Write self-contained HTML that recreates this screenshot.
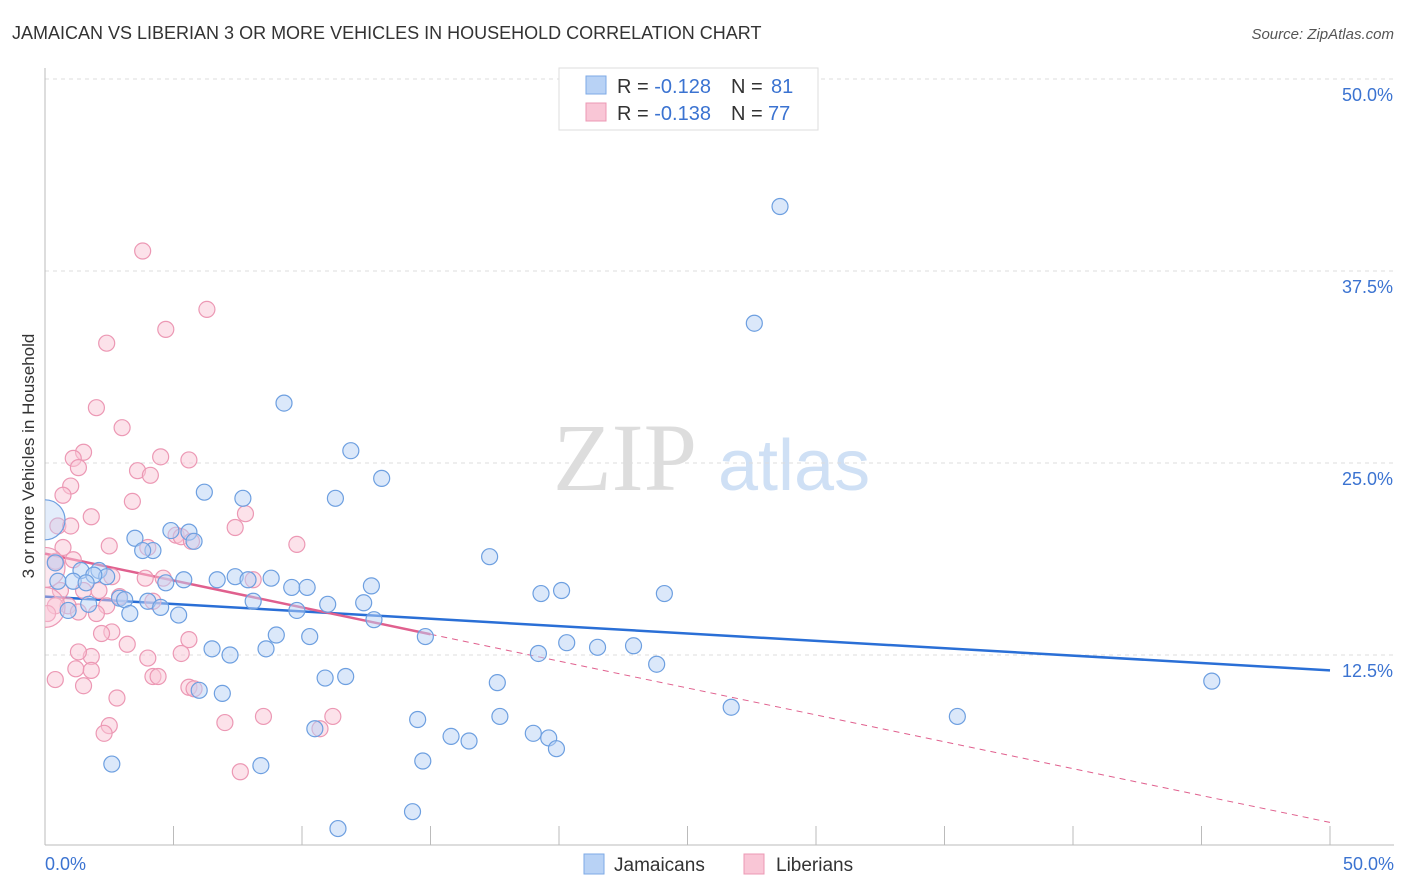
<!DOCTYPE html>
<html><head><meta charset="utf-8"><style>
body{margin:0;background:#fff;font-family:"Liberation Sans",sans-serif}
svg{display:block}
</style></head><body>
<svg id="chart" width="1406" height="892" xmlns="http://www.w3.org/2000/svg">
<defs><clipPath id="plotclip"><rect x="45" y="60" width="1360" height="785"/></clipPath></defs>
<text x="12" y="39" font-size="18" fill="#333">JAMAICAN VS LIBERIAN 3 OR MORE VEHICLES IN HOUSEHOLD CORRELATION CHART</text>
<text x="1394" y="39" font-size="15" fill="#555" text-anchor="end" font-style="italic">Source: ZipAtlas.com</text>
<g>
<text x="553" y="490" font-size="96" fill="#ddd" font-family="Liberation Serif,serif">ZIP</text>
<text x="718" y="490" font-size="72" fill="#cfe0f5">atlas</text>
</g>
<g id="grid"></g><g id="axes"></g><g id="trends"></g><g id="points" clip-path="url(#plotclip)"></g>
<text transform="translate(34,456) rotate(-90)" font-size="17" fill="#333" text-anchor="middle">3 or more Vehicles in Household</text>
<g>
<rect x="559" y="68" width="259" height="62" fill="#fff" stroke="#ddd"/>
<rect x="586" y="76" width="20" height="18" fill="#b8d2f5" stroke="#7eaae6"/>
<rect x="586" y="103" width="20" height="18" fill="#f9c6d6" stroke="#ec98b4"/>
<text x="617" y="93" font-size="20" fill="#333">R = <tspan fill="#3b73d1">-0.128</tspan><tspan x="731">N = </tspan><tspan fill="#3b73d1" x="771">81</tspan></text>
<text x="617" y="120" font-size="20" fill="#333">R = <tspan fill="#3b73d1">-0.138</tspan><tspan x="731">N = </tspan><tspan fill="#3b73d1" x="768">77</tspan></text>
</g>
<g>
<rect x="584" y="854" width="20" height="20" fill="#b8d2f5" stroke="#7eaae6"/>
<text x="614" y="871" font-size="19" fill="#333">Jamaicans</text>
<rect x="744" y="854" width="20" height="20" fill="#f9c6d6" stroke="#ec98b4"/>
<text x="776" y="871" font-size="19" fill="#333">Liberians</text>
</g>
</svg>
<script>
const blueX=[28.6,27.6,9.3,11.9,13.1,6.2,7.7,11.3,4.9,5.6,5.8,3.5,4.2,3.8,17.3,0.4,1.4,2.1,2.4,1.9,0.5,1.1,1.6,5.4,4.7,6.7,7.4,7.9,8.8,9.6,10.2,12.7,19.3,20.1,24.1,2.9,3.1,4.0,4.5,3.3,5.2,1.7,0.9,8.1,9.8,11.0,12.4,12.8,9.0,10.3,14.8,20.3,21.5,22.9,23.8,19.2,6.5,7.2,8.6,6.0,6.9,10.9,11.7,17.6,26.7,45.4,35.5,14.5,17.7,15.8,16.5,19.0,19.6,19.9,10.5,2.6,8.4,14.7,14.3,11.4,0.0];
const blueY=[41.7,34.1,28.9,25.8,24.0,23.1,22.7,22.7,20.6,20.5,19.9,20.1,19.3,19.3,18.9,18.5,18.0,18.0,17.6,17.7,17.3,17.3,17.2,17.4,17.2,17.4,17.6,17.4,17.5,16.9,16.9,17.0,16.5,16.7,16.5,16.2,16.1,16.0,15.6,15.2,15.1,15.8,15.4,16.0,15.4,15.8,15.9,14.8,13.8,13.7,13.7,13.3,13.0,13.1,11.9,12.6,12.9,12.5,12.9,10.2,10.0,11.0,11.1,10.7,9.1,10.8,8.5,8.3,8.5,7.2,6.9,7.4,7.1,6.4,7.7,5.4,5.3,5.6,2.3,1.2,21.3];
const pinkX=[3.8,6.3,4.7,2.4,2.0,3.0,1.5,1.1,1.3,4.5,5.6,3.6,4.1,1.0,0.7,3.4,1.8,7.8,0.5,1.0,7.4,5.1,5.3,4.0,2.5,5.7,9.8,0.7,0.4,1.1,4.6,2.6,3.9,8.1,0.6,1.5,2.1,2.9,4.2,2.4,0.9,1.3,2.0,0.4,0.1,2.6,3.2,2.2,5.6,5.3,4.0,1.8,1.3,1.2,1.8,4.2,4.4,0.4,1.5,5.6,5.8,2.8,2.5,2.3,7.0,8.5,11.2,10.7,7.6,0.0,0.0];
const pinkY=[38.8,35.0,33.7,32.8,28.6,27.3,25.7,25.3,24.7,25.4,25.2,24.5,24.2,23.5,22.9,22.5,21.5,21.7,20.9,20.9,20.8,20.3,20.2,19.5,19.6,19.9,19.7,19.5,18.6,18.7,17.5,17.6,17.5,17.4,16.7,16.7,16.7,16.3,16.0,15.7,15.7,15.3,15.2,15.7,15.2,14.0,13.2,13.9,13.5,12.6,12.3,12.4,12.7,11.6,11.5,11.1,11.1,10.9,10.5,10.4,10.3,9.7,7.9,7.4,8.1,8.5,8.5,7.7,4.9,18.2,15.6];
const blueTrend=[16.3,11.5];
const pinkTrend=[19.1,1.6];
const pinkSolidEnd=15;
const yTicks=[12.5,25.0,37.5,50.0];
const xTicks=[0,5,10,15,20,25,30,35,40,45,50];
const NS='http://www.w3.org/2000/svg';
const X=v=>45+v*25.7, Y=v=>847-v*15.36;
function mk(tag,attrs,parent){const e=document.createElementNS(NS,tag);for(const k in attrs)e.setAttribute(k,attrs[k]);document.getElementById(parent).appendChild(e);return e;}
yTicks.forEach(t=>{
 const g=mk('line',{x1:45,x2:1394,y1:Y(t),y2:Y(t),stroke:'#ddd','stroke-dasharray':'4,4'},'grid');
 
 
 const l=mk('text',{x:1393,y:Y(t)+22,'font-size':18,fill:'#3b73d1','text-anchor':'end'},'axes');
 l.textContent=t.toFixed(1)+'%';
 
 
});
const ax=mk('line',{x1:45,x2:1394,y1:845,y2:845,stroke:'#bbb'},'axes');


const ay=mk('line',{x1:45,x2:45,y1:68,y2:845,stroke:'#bbb'},'axes');


xTicks.forEach(t=>{
 const k=mk('line',{x1:X(t),x2:X(t),y1:826,y2:845,stroke:'#bbb'},'axes');
 
 
});
[[0,'start',45],[50,'end',1394]].forEach(([t,a,px])=>{
 const l=mk('text',{x:px,y:870,'font-size':18,fill:'#3b73d1','text-anchor':a},'axes');
 l.textContent=t.toFixed(1)+'%';
 
 
});
function pts(xs,ys,fill,stroke,name,bigCount){
 xs.forEach((x,i)=>{
  const big=(i>=xs.length-bigCount);
  const c=mk('circle',{cx:X(x),cy:Y(ys[i]),r:big?20:8,fill:fill,'fill-opacity':big?0.4:0.5,stroke:stroke,'stroke-width':1.2},'points');
  
  
 });
}
pts(pinkX,pinkY,'#f9c6d6','#ec98b4','liberian-point',2);
pts(blueX,blueY,'#b8d2f5','#6d9fe0','jamaican-point',1);
const bt=mk('line',{x1:X(0),y1:Y(blueTrend[0]),x2:X(50),y2:Y(blueTrend[1]),stroke:'#2a6fd6','stroke-width':2.5},'trends');


const pAt=x=>pinkTrend[0]+(pinkTrend[1]-pinkTrend[0])*x/50;
const pt=mk('line',{x1:X(0),y1:Y(pinkTrend[0]),x2:X(pinkSolidEnd),y2:Y(pAt(pinkSolidEnd)),stroke:'#e0608e','stroke-width':2.5},'trends');


const pd=mk('line',{x1:X(pinkSolidEnd),y1:Y(pAt(pinkSolidEnd)),x2:X(50),y2:Y(pinkTrend[1]),stroke:'#e0608e','stroke-width':1,'stroke-dasharray':'6,5'},'trends');


</script>
</body></html>
